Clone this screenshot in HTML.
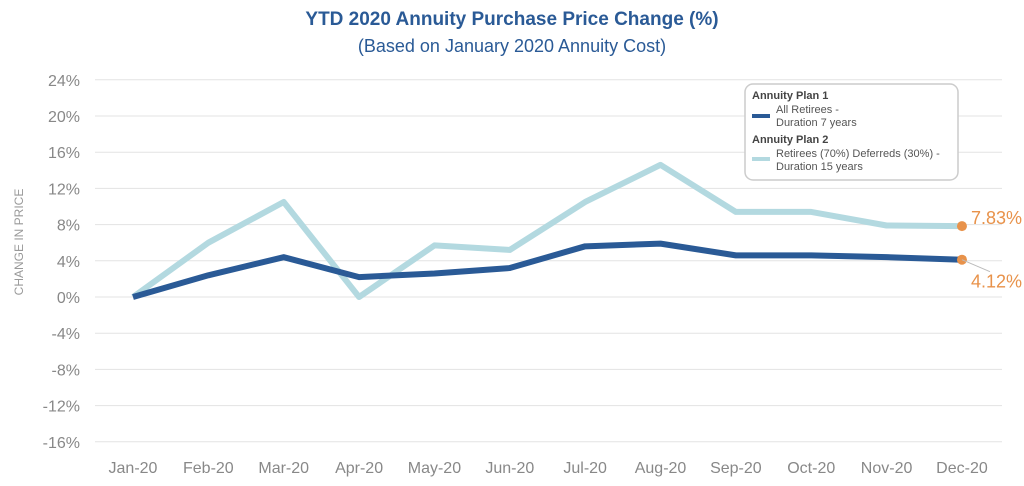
<!DOCTYPE html>
<html><head><meta charset="utf-8"><style>
body{margin:0;background:#fff;}
svg{display:block;font-family:"Liberation Sans",sans-serif;}
</style></head><body>
<svg id="chart" width="1024" height="486">
<text x="512" y="25" text-anchor="middle" font-size="19" font-weight="bold" fill="#2a5a96">YTD 2020 Annuity Purchase Price Change (%)</text>
<text x="512" y="52" text-anchor="middle" font-size="18" fill="#2a5a96">(Based on January 2020 Annuity Cost)</text>
<text transform="translate(23,242) rotate(-90)" text-anchor="middle" font-size="12" fill="#999">CHANGE IN PRICE</text>
<g id="grid"></g><g id="xlabels"></g><g id="lines"></g>
<g>
<rect x="745" y="84" width="213" height="96" rx="8" fill="#fff" stroke="#ccc" stroke-width="1.5"/>
<text x="752" y="99" font-size="11" font-weight="bold" fill="#444">Annuity Plan 1</text>
<line x1="752" y1="116" x2="770" y2="116" stroke="#2a5a96" stroke-width="4"/>
<text x="776" y="113" font-size="11" fill="#555">All Retirees -</text>
<text x="776" y="126" font-size="11" fill="#555">Duration 7 years</text>
<text x="752" y="143" font-size="11" font-weight="bold" fill="#444">Annuity Plan 2</text>
<line x1="752" y1="159" x2="770" y2="159" stroke="#b3d9e0" stroke-width="4"/>
<text x="776" y="157" font-size="11" fill="#555">Retirees (70%) Deferreds (30%) -</text>
<text x="776" y="170" font-size="11" fill="#555">Duration 15 years</text>
</g>
</svg>
<script>
const months=["Jan-20","Feb-20","Mar-20","Apr-20","May-20","Jun-20","Jul-20","Aug-20","Sep-20","Oct-20","Nov-20","Dec-20"];
const plan1=[0,2.4,4.4,2.2,2.6,3.2,5.6,5.9,4.6,4.6,4.4,4.12];
const plan2=[0,6.0,10.5,0,5.7,5.2,10.5,14.6,9.4,9.4,7.9,7.83];
const yTicks=[24,20,16,12,8,4,0,-4,-8,-12,-16];
const NS="http://www.w3.org/2000/svg";
const y=v=>297-v*9.05;
const x=i=>133+i*75.36;
function mk(t,a,p){const e=document.createElementNS(NS,t);for(const k in a)e.setAttribute(k,a[k]);p.appendChild(e);return e;}
const grid=document.getElementById('grid');
yTicks.forEach(v=>{
 const l=mk('line',{x1:95,x2:1002,y1:y(v),y2:y(v),stroke:'#e3e3e3','stroke-width':1},grid);
 
 
 const t=mk('text',{x:80,y:y(v)+6,'text-anchor':'end','font-size':16,fill:'#888'},grid);
 t.textContent=v+'%';
 
 
});
const xl=document.getElementById('xlabels');
months.forEach((m,i)=>{
 const t=mk('text',{x:x(i),y:473,'text-anchor':'middle','font-size':16,fill:'#888'},xl);
 t.textContent=m;
 
 
});
const lg=document.getElementById('lines');
function series(d,c,name){
 const p=mk('polyline',{points:d.map((v,i)=>x(i)+','+y(v)).join(' '),fill:'none',stroke:c,'stroke-width':6,'stroke-linejoin':'round'},lg);
 
 
}
series(plan2,'#b3d9e0','plan2-line');
series(plan1,'#2a5a96','plan1-line');
const last=months.length-1;
[[plan2,-8,'plan2-end-label'],[plan1,22,'plan1-end-label']].forEach(([d,dy,n])=>{
 const c=mk('circle',{cx:x(last),cy:y(d[last]),r:5,fill:'#e8924a'},lg);
 
 
 const t=mk('text',{x:1022,y:y(d[last])+dy+6,'text-anchor':'end','font-size':18,fill:'#e8924a'},lg);
 t.textContent=d[last].toFixed(2)+'%';
 
 
});
mk('line',{x1:x(last),y1:y(plan1[last]),x2:990,y2:y(plan1[last])+12,stroke:'#bbb','stroke-width':1},lg);
</script>
</body></html>
